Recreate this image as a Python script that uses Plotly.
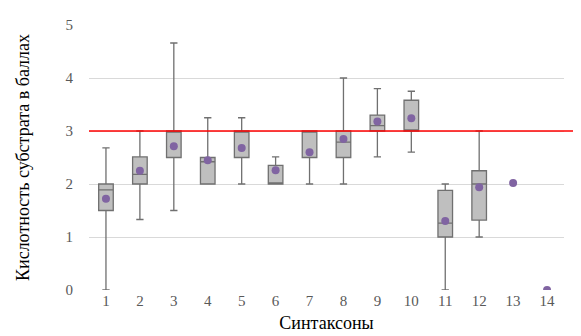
import plotly.graph_objects as go

categories = list(range(1, 15))
box_cats = list(range(1, 13))
q1 = [1.5, 2.0, 2.5, 2.0, 2.5, 2.0, 2.5, 2.5, 3.0, 3.0, 1.0, 1.32]
median = [1.89, 2.18, 3.0, 2.42, 3.0, 2.0, 3.0, 2.79, 3.1, 3.0, 1.26, 2.0]
q3 = [2.0, 2.51, 3.0, 2.5, 3.0, 2.35, 3.0, 3.0, 3.3, 3.58, 1.88, 2.25]
lower = [0.0, 1.33, 1.5, 2.0, 2.0, 2.0, 2.0, 2.0, 2.51, 2.6, 0.0, 1.0]
upper = [2.68, 3.0, 4.66, 3.25, 3.25, 2.51, 3.0, 4.0, 3.8, 3.75, 2.0, 3.0]
means = [1.72, 2.25, 2.71, 2.45, 2.68, 2.26, 2.6, 2.85, 3.18, 3.24, 1.3, 1.94, 2.02, 0.0]
threshold = 3.0

fig = go.Figure()
fig.add_trace(go.Box(
    x=box_cats, q1=q1, median=median, q3=q3,
    lowerfence=lower, upperfence=upper,
    width=0.43, whiskerwidth=0.5,
    fillcolor="#BFBFBF",
    line=dict(color="#707070", width=1.3),
    boxpoints=False, showlegend=False, hoverinfo="skip",
))
fig.add_trace(go.Scatter(
    x=categories, y=means, mode="markers",
    marker=dict(color="#8064A2", size=8),
    showlegend=False,
))
fig.add_shape(type="line", xref="paper", yref="y", x0=0, x1=1.04,
              y0=threshold, y1=threshold,
              line=dict(color="#FF0000", width=1.5))

font = "Liberation Serif, Times New Roman, serif"
fig.update_layout(
    width=581, height=336,
    margin=dict(l=81, r=25, t=17, b=54, autoexpand=False),
    plot_bgcolor="white", paper_bgcolor="white",
    font=dict(family=font, size=15, color="#595959"),
    xaxis=dict(range=[0.5, 14.5], tickmode="array", tickvals=categories,
               ticktext=[str(c) for c in categories], showgrid=False,
               zeroline=False, showline=False, ticks="", automargin=False,
               tickfont=dict(size=15, color="#595959"),
               title=dict(text="Синтаксоны", font=dict(size=18, color="#000000"), standoff=8)),
    yaxis=dict(range=[0, 5], dtick=1, showgrid=True, gridcolor="#D9D9D9",
               gridwidth=1, zeroline=False, showline=False, ticks="",
               ticklabelstandoff=15, automargin=False,
               tickfont=dict(size=15, color="#595959"),
               title=dict(text="Кислотность субстрата в баллах",
                          font=dict(size=18, color="#000000"), standoff=31)),
)
fig.write_html("out.html")
